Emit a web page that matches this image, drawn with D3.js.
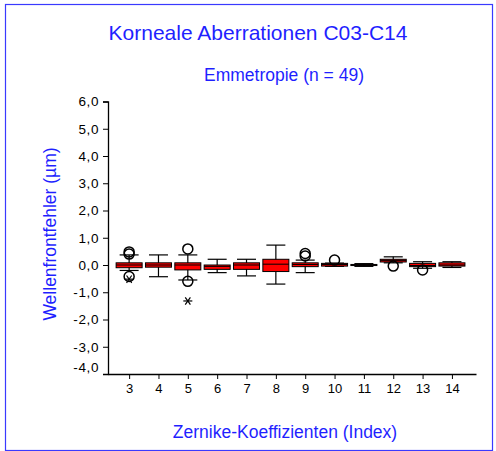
<!DOCTYPE html>
<html>
<head>
<meta charset="utf-8">
<script src="https://cdn.jsdelivr.net/npm/d3@7"></script>
<style>
  html, body { margin: 0; padding: 0; background: #fff; }
  svg { display: block; }
  text { font-family: "Liberation Sans", Arial, sans-serif; }
</style>
</head>
<body>
<svg id="chart" width="496" height="451"></svg>
<script>
// ---- Data ----
const indices      = [3, 4, 5, 6, 7, 8, 9, 10, 11, 12, 13, 14];
const q1Values     = [-0.10, -0.08, -0.18, -0.16, -0.16, -0.24, -0.06, -0.04, -0.02, 0.11, -0.06, -0.04];
const medianValues = [0.00, 0.00, 0.00, -0.05, 0.00, 0.03, 0.02, 0.02, 0.00, 0.17, -0.02, 0.00];
const q3Values     = [0.08, 0.08, 0.08, 0.00, 0.08, 0.21, 0.08, 0.06, 0.02, 0.21, 0.06, 0.08];
const whiskerLow   = [-0.20, -0.43, -0.55, -0.28, -0.40, -0.70, -0.28, -0.05, -0.05, 0.08, -0.12, -0.09];
const whiskerHigh  = [0.37, 0.37, 0.37, 0.21, 0.21, 0.73, 0.18, 0.07, 0.05, 0.30, 0.12, 0.12];
// outliers (circles) and extremes (stars), as [index, value]
const outlierPoints = [[3, 0.48], [3, 0.40], [3, -0.42], [5, 0.59], [5, -0.60],
                       [9, 0.42], [9, 0.33], [10, 0.18], [12, -0.04], [13, -0.18]];
const extremePoints = [[3, -0.52], [5, -1.32]];
const yTickValues = [-4, -3, -2, -1, 0, 1, 2, 3, 4, 5, 6];

const titleText    = "Korneale Aberrationen C03-C14";
const subtitleText = "Emmetropie (n = 49)";
const xLabelText   = "Zernike-Koeffizienten (Index)";
const yLabelText   = "Wellenfrontfehler (µm)";

// ---- Layout ----
const svg = d3.select("#chart");
const blue = "#1f1fff";

svg.append("rect")
  .attr("x", 5.5).attr("y", 4.5).attr("width", 487).attr("height", 446)
  .attr("fill", "none").attr("stroke", "#3a3aff").attr("stroke-width", 1.2);

const x = d3.scaleLinear().domain([2.28, 14.82]).range([108, 476]);
const y = d3.scaleLinear().domain([-4, 6]).range([374, 101.5]);

const fmt = v => v.toFixed(1).replace(".", ",");

// Y axis
const yAxis = svg.append("g")
  .attr("transform", "translate(108,0)")
  .call(d3.axisLeft(y).tickValues(yTickValues).tickFormat(fmt).tickSize(5).tickPadding(4));
yAxis.select(".domain").attr("stroke", "#000").attr("stroke-width", 1.3);
yAxis.selectAll(".tick line").attr("stroke", "#000");
yAxis.selectAll(".tick text")
  .attr("fill", "#000").style("font-size", "13.5px").style("letter-spacing", "0.6px")
  .attr("dy", d => d === -4 ? "-0.22em" : "0.32em");
yAxis.selectAll(".tick").filter(d => d === -4).select("line").remove();

// X axis
const xAxis = svg.append("g")
  .attr("transform", "translate(0,374)")
  .call(d3.axisBottom(x).tickValues(indices).tickFormat(d3.format("d")).tickSize(5).tickPadding(5).tickSizeOuter(0));
xAxis.select(".domain").attr("stroke", "#000").attr("stroke-width", 1.3);
xAxis.selectAll(".tick line").attr("stroke", "#000");
xAxis.selectAll(".tick text").attr("fill", "#000").style("font-size", "13px");

// Boxes
const boxW = 26, capW = 19;
const data = indices.map((k, i) => ({
  k, q1: q1Values[i], med: medianValues[i], q3: q3Values[i],
  lo: whiskerLow[i], hi: whiskerHigh[i]
}));
const g = svg.append("g");
const boxes = g.selectAll("g.box").data(data).join("g").attr("class", "box");

boxes.append("line") // whisker stem
  .attr("x1", d => x(d.k)).attr("x2", d => x(d.k))
  .attr("y1", d => y(d.hi)).attr("y2", d => y(d.lo))
  .attr("stroke", "#000").attr("stroke-width", 1.2);
boxes.append("line")
  .attr("x1", d => x(d.k) - capW / 2).attr("x2", d => x(d.k) + capW / 2)
  .attr("y1", d => y(d.hi)).attr("y2", d => y(d.hi))
  .attr("stroke", "#000").attr("stroke-width", 1.2);
boxes.append("line")
  .attr("x1", d => x(d.k) - capW / 2).attr("x2", d => x(d.k) + capW / 2)
  .attr("y1", d => y(d.lo)).attr("y2", d => y(d.lo))
  .attr("stroke", "#000").attr("stroke-width", 1.2);
boxes.append("rect")
  .attr("x", d => x(d.k) - boxW / 2).attr("width", boxW)
  .attr("y", d => y(d.q3)).attr("height", d => Math.max(1, y(d.q1) - y(d.q3)))
  .attr("fill", "#ff0000").attr("stroke", "#000").attr("stroke-width", 1);
boxes.append("line")
  .attr("x1", d => x(d.k) - boxW / 2).attr("x2", d => x(d.k) + boxW / 2)
  .attr("y1", d => y(d.med)).attr("y2", d => y(d.med))
  .attr("stroke", "#000").attr("stroke-width", 1);

// Outliers
g.selectAll("circle.out").data(outlierPoints).join("circle")
  .attr("class", "out")
  .attr("cx", d => x(d[0])).attr("cy", d => y(d[1])).attr("r", 5)
  .attr("fill", "none").attr("stroke", "#000").attr("stroke-width", 1.5);

// Extremes (stars)
g.selectAll("g.ext").data(extremePoints).join("g")
  .attr("class", "ext")
  .attr("transform", d => `translate(${x(d[0])},${y(d[1])})`)
  .each(function () {
    const s = d3.select(this);
    const r = 4.5;
    [0, 55, 125].forEach(a => {
      const rad = a * Math.PI / 180;
      s.append("line")
        .attr("x1", -r * Math.cos(rad)).attr("y1", -r * Math.sin(rad))
        .attr("x2", r * Math.cos(rad)).attr("y2", r * Math.sin(rad))
        .attr("stroke", "#000").attr("stroke-width", 1.2);
    });
  });

// Titles
svg.append("text").text(titleText)
  .attr("x", 258).attr("y", 40).attr("text-anchor", "middle")
  .attr("fill", blue).style("font-size", "21px");
svg.append("text").text(subtitleText)
  .attr("x", 284).attr("y", 81).attr("text-anchor", "middle")
  .attr("fill", blue).style("font-size", "17.5px");
svg.append("text").text(xLabelText)
  .attr("x", 285).attr("y", 438).attr("text-anchor", "middle")
  .attr("fill", blue).style("font-size", "17.5px");
svg.append("text").text(yLabelText)
  .attr("transform", "translate(56,234) rotate(-90)").attr("text-anchor", "middle")
  .attr("fill", blue).style("font-size", "17.5px");
</script>
</body>
</html>
